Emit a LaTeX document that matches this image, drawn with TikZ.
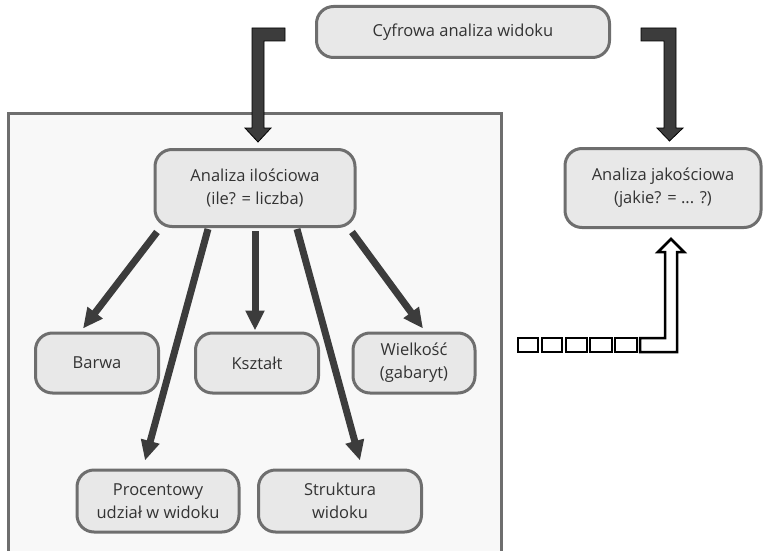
\documentclass[tikz,border=0pt]{standalone}
\usepackage{fontspec}
\setmainfont{Open Sans}
\usetikzlibrary{arrows.meta,calc}
\definecolor{boxedge}{HTML}{6E6E6E}
\definecolor{boxfill}{HTML}{E8E8E8}
\definecolor{panel}{HTML}{F8F8F8}
\definecolor{arr}{HTML}{3C3C3C}
\definecolor{txt}{HTML}{333333}
\tikzset{
  box/.style={draw=boxedge, fill=boxfill, line width=3pt, rounded corners=17pt,
    align=center, text=txt, font=\fontsize{16.5}{23}\selectfont, inner sep=0pt},
  bigarrow/.style={draw=arr, line width=7pt, -{Triangle[length=20pt,width=18pt]}},
  elbow/.style={fill=arr, draw=black, line width=0.8pt},
  hollow/.style={fill=white, draw=black, line width=2.5pt, line join=miter}
}
\begin{document}
\begin{tikzpicture}[x=1pt,y=-1pt]
\useasboundingbox (0,0) rectangle (765,551);
\begin{scope}
\clip (0,0) rectangle (765,551);
\draw[draw=boxedge, fill=panel, line width=3pt] (8,113) rectangle (501,600);
\end{scope}

\node[box, minimum width=293pt, minimum height=51pt] (top) at (463,32) {Cyfrowa analiza widoku};
\node[box, minimum width=200pt, minimum height=77pt] (il) at (255,188) {Analiza ilościowa\\(ile? = liczba)};
\node[box, minimum width=196pt, minimum height=79pt] (jak) at (663,188) {Analiza jakościowa\\(jakie? = ... ?)};
\node[box, minimum width=123pt, minimum height=60pt] (barwa) at (97,363) {Barwa};
\node[box, minimum width=123pt, minimum height=60pt] (ksztalt) at (257,363) {Kształt};
\node[box, minimum width=122pt, minimum height=60pt] (wielk) at (414,363) {Wielkość\\(gabaryt)};
\node[box, minimum width=162pt, minimum height=62pt] (proc) at (158,501) {Procentowy\\udział w widoku};
\node[box, minimum width=163pt, minimum height=62pt] (strukt) at (340,501) {Struktura\\widoku};

% elbow arrows from top node
\draw[elbow] ($(top.west)+(-30,-4)$) -- (252,28) -- (252,128) -- (245,128) -- ($(il.north)+(3,-6)$)
  -- (271,128) -- (264,128) -- (264,41) -- ($(top.west)+(-30,9)$) -- cycle;
\draw[elbow] ($(top.east)+(30,-4)$) -- (676,28) -- (676,128) -- (683,128) -- ($(jak.north)+(6.5,-6)$)
  -- (657,128) -- (664,128) -- (664,41) -- ($(top.east)+(30,9)$) -- cycle;

% arrows from Analiza ilosciowa
\draw[bigarrow] ($(il.south)+(-98,4)$) -- ($(barwa.north)+(-14,-3)$);
\draw[bigarrow] ($(il.south)+(-47,1)$) -- ($(proc.north)+(-13,-8)$);
\draw[bigarrow] ($(il.south)+(0,3)$) -- ($(ksztalt.north)+(-2,-1)$);
\draw[bigarrow] ($(il.south)+(42,1)$) -- ($(strukt.north)+(20,-8)$);
\draw[bigarrow] ($(il.south)+(97,4)$) -- ($(wielk.north)+(9,-3)$);

% hollow dashed arrow into Analiza jakosciowa
\foreach \xa/\xb in {518/538,542/562,566/587,590/612,615/637}{
  \draw[hollow] (\xa,338) rectangle (\xb,352);
}
\coordinate (hstart) at (640,338);
\draw[hollow] (hstart) -- (665,338) -- (665,252) -- (658,252) -- ($(jak.south)+(8,10)$)
  -- (684,252) -- (677,252) -- (677,352) -- (640,352) -- cycle;
\end{tikzpicture}
\end{document}
